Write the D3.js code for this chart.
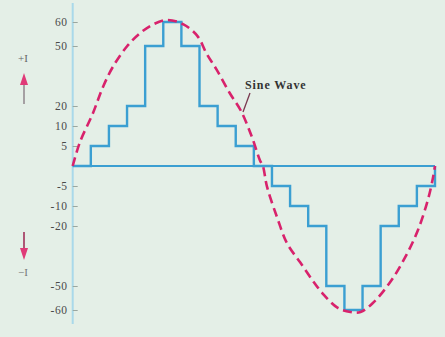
<!DOCTYPE html>
<html><head><meta charset="utf-8">
<script src="https://cdn.jsdelivr.net/npm/d3@7"></script>
<style>html,body{margin:0;padding:0;background:#e4efe7;}svg{display:block;}</style>
</head><body>
<script>
// ---- data ----
const tickValues = [60, 50, 20, 10, 5, -5, -10, -20, -50, -60];
const tickLabels = ["60", "50", "20", "10", "5", "-5", "-10", "-20", "-50", "-60"];
const levelValues = [-60, -50, -20, -10, -5, 0, 5, 10, 20, 50, 60];
const levelUnits  = [-7.2, -6, -3, -2, -1, 0, 1, 2, 3, 6, 7.2];
// staircase: step start angle (deg) and level
const stepStarts = [0, 18, 36, 54, 72, 90, 108, 126, 144, 162, 180, 198, 216, 234, 252, 270, 288, 306, 324, 342, 360];
const stepLevels = [0, 5, 10, 20, 50, 60, 50, 20, 10, 5, 0, -5, -10, -20, -50, -60, -50, -20, -10, -5, 0];
// dashed sine wave (angle deg, normalised amplitude)
const sineAngles = [0, 7, 20, 30, 40, 54, 67, 80, 94, 110, 124, 133, 143, 156, 167, 178, 186, 189, 193, 203, 213, 226, 238, 248, 263, 276, 286, 298, 315, 330, 343, 353, 358, 360];
const sineValues = [0, 0.16, 0.36, 0.54, 0.68, 0.82, 0.91, 0.97, 1.0, 0.97, 0.89, 0.77, 0.66, 0.5, 0.38, 0.2, 0.04, 0, -0.14, -0.35, -0.53, -0.66, -0.78, -0.87, -0.97, -1.0, -1.0, -0.94, -0.8, -0.63, -0.44, -0.23, -0.08, 0];
const labelText = "Sine Wave";
const plusI = "+I", minusI = "−I";

// ---- layout ----
const W = 445, H = 337;
const svg = d3.select("body").append("svg").attr("width", W).attr("height", H);
svg.append("rect").attr("x", 0).attr("y", 0).attr("width", W).attr("height", H).attr("fill", "#e4efe7");

const x = d3.scaleLinear().domain([0, 360]).range([72.7, 435]);
const yUnit = d3.scaleLinear().domain(levelValues).range(levelUnits);
const yPx = d3.scaleLinear().domain([-7.2, 7.2]).range([310, 22]);
const y = v => yPx(yUnit(v));
const ySine = d3.scaleLinear().domain([-1, 1]).range([312, 20]);

// vertical axis line
svg.append("line").attr("x1", x(0)).attr("x2", x(0)).attr("y1", 3).attr("y2", 324)
  .attr("stroke", "#a9d9ea").attr("stroke-width", 2);

// axis ticks + labels
const axisScale = d3.scaleLinear().domain(levelValues).range(levelUnits.map(u => yPx(u)));
const axis = d3.axisLeft(axisScale).tickValues(tickValues)
  .tickFormat((d, i) => tickLabels[i]).tickSizeInner(-5).tickSizeOuter(0).tickPadding(5);
const g = svg.append("g").attr("transform", `translate(${x(0)},0)`).call(axis);
g.select(".domain").remove();
g.selectAll(".tick line").attr("stroke", "#9aa7a0").attr("stroke-width", 1);
g.selectAll(".tick text").attr("fill", "#4a4a4a").attr("font-family", "Liberation Serif")
  .attr("font-size", 11.5).attr("letter-spacing", 0.6);

// zero line
svg.append("line").attr("x1", x(0)).attr("x2", x(360)).attr("y1", y(0)).attr("y2", y(0))
  .attr("stroke", "#3b9fd2").attr("stroke-width", 2);

// staircase
const stepData = stepStarts.map((a, i) => [a, stepLevels[i]]);
const stair = d3.line().x(d => x(d[0])).y(d => y(d[1])).curve(d3.curveStepAfter);
svg.append("path").attr("d", stair(stepData)).attr("fill", "none")
  .attr("stroke", "#3b9fd2").attr("stroke-width", 2.4);

// dashed sine
const sinePts = sineAngles.map((a, i) => [a, sineValues[i]]);
const sineLine = d3.line().x(d => x(d[0])).y(d => ySine(d[1])).curve(d3.curveCatmullRom.alpha(0.5));
svg.append("path").attr("d", sineLine(sinePts)).attr("fill", "none")
  .attr("stroke", "#d8226c").attr("stroke-width", 2.6).attr("stroke-dasharray", "9,5");

// Sine Wave label + pointer
svg.append("text").attr("x", 245).attr("y", 89).text(labelText)
  .attr("font-family", "Liberation Serif").attr("font-weight", "bold")
  .attr("font-size", 12).attr("letter-spacing", 0.9).attr("fill", "#333");
svg.append("line").attr("x1", 250).attr("y1", 93).attr("x2", 243).attr("y2", ySine(0.37))
  .attr("stroke", "#7a3a50").attr("stroke-width", 1.3);

// +I / -I arrows
svg.append("text").attr("x", 23).attr("y", 62).attr("text-anchor", "middle").text(plusI)
  .attr("font-family", "Liberation Serif").attr("font-size", 11).attr("fill", "#666");
svg.append("line").attr("x1", 24).attr("x2", 24).attr("y1", 104).attr("y2", 82)
  .attr("stroke", "#8a7f86").attr("stroke-width", 1.4);
svg.append("path").attr("d", "M24,73 L20,85 L28,85 Z").attr("fill", "#e03a78");

svg.append("line").attr("x1", 24).attr("x2", 24).attr("y1", 232).attr("y2", 252)
  .attr("stroke", "#a0305a").attr("stroke-width", 1.6);
svg.append("path").attr("d", "M24,260 L20,248 L28,248 Z").attr("fill", "#e03a78");
svg.append("text").attr("x", 23).attr("y", 276).attr("text-anchor", "middle").text(minusI)
  .attr("font-family", "Liberation Serif").attr("font-size", 11).attr("fill", "#777");
</script>
</body></html>
